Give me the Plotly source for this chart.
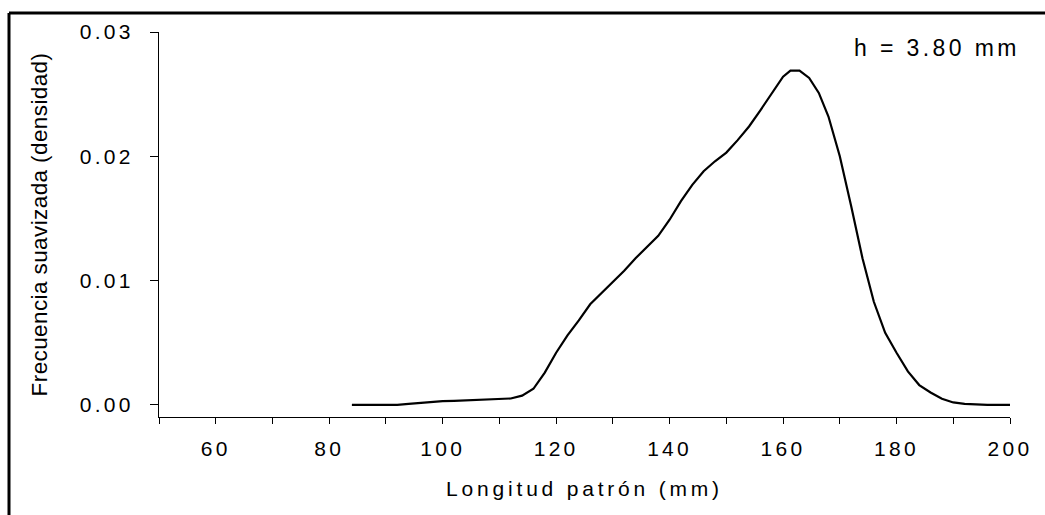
import plotly.graph_objects as go

# ---- data ----
length_mm = [84, 86, 88, 90, 92, 94, 96, 98, 100, 102, 104, 106, 108, 110, 112, 114, 116,
             118, 120, 122, 124, 126, 128, 130, 132, 134, 136, 138, 140, 142, 144, 146, 148,
             150, 152, 154, 156, 158, 160, 161.3, 162.9, 164.6, 166.3, 168, 170, 172, 174,
             176, 178, 180, 182, 184, 186, 188, 190, 192, 194, 196, 198, 200]
density = [0, 0, 0, 0, 0, 0.00008, 0.00016, 0.00019, 0.0003, 0.00032, 0.00036, 0.00044,
           0.00046, 0.00046, 0.00052, 0.00075, 0.0013,
           0.0026, 0.0042, 0.0056, 0.0068, 0.0081, 0.0090, 0.0099, 0.0108, 0.0118, 0.0127,
           0.0136, 0.0149, 0.0164, 0.0177, 0.0188, 0.0196,
           0.0203, 0.0213, 0.0224, 0.0237, 0.0251, 0.0264, 0.0269, 0.0269, 0.0263, 0.0251,
           0.0232, 0.0200, 0.0160, 0.0118,
           0.0083, 0.0058, 0.0042, 0.0027, 0.0016, 0.0010, 0.0005, 0.0002, 0.00008, 0.00002,
           0, 0, 0]

x_tickvals = [50, 60, 70, 80, 90, 100, 110, 120, 130, 140, 150, 160, 170, 180, 190, 200]
x_ticklabels = ["", "60", "", "80", "", "100", "", "120", "", "140", "", "160", "", "180", "", "200"]
y_tickvals = [0.0, 0.01, 0.02, 0.03]
y_ticklabels = ["0.00", "0.01", "0.02", "0.03"]

x_title = "Longitud patrón (mm)"
y_title = "Frecuencia suavizada (densidad)"
note = "h = 3.80 mm"

FONT = "Liberation Sans, Arial, sans-serif"


def spaced(text, px):
    if not text:
        return text
    return f'<span style="letter-spacing:{px}px">{text}</span>'


fig = go.Figure()
fig.add_trace(go.Scatter(
    x=length_mm, y=density, mode="lines",
    line=dict(color="black", width=2.2),
    showlegend=False, hoverinfo="x+y",
))

fig.update_layout(
    width=1045, height=515,
    margin=dict(l=159, r=35, t=32, b=98),
    paper_bgcolor="white", plot_bgcolor="white",
    font=dict(family=FONT, color="black", size=21),
    xaxis=dict(
        range=[50, 200], showgrid=False, zeroline=False,
        showline=True, linecolor="black", linewidth=1,
        ticks="outside", ticklen=6, tickwidth=1, tickcolor="black",
        tickvals=x_tickvals,
        ticktext=[spaced(t, 3.3) for t in x_ticklabels],
        tickfont=dict(family=FONT, size=21, color="black"),
        ticklabelstandoff=7,
        title=dict(text=spaced(x_title, 3.8), font=dict(family=FONT, size=21), standoff=22),
        automargin=False,
    ),
    yaxis=dict(
        range=[-0.00097, 0.03], showgrid=False, zeroline=False,
        showline=True, linecolor="black", linewidth=1,
        ticks="outside", ticklen=8, tickwidth=1, tickcolor="black",
        tickvals=y_tickvals,
        ticktext=[spaced(t, 3.3) for t in y_ticklabels],
        tickfont=dict(family=FONT, size=21, color="black"),
        ticklabelstandoff=12,
        title=dict(text=spaced(y_title, 0.4), font=dict(family=FONT, size=22.5), standoff=25),
        automargin=False,
    ),
)

fig.add_annotation(
    xref="paper", yref="paper", x=1.0141, y=0.958,
    xanchor="right", yanchor="middle", showarrow=False,
    text=spaced(note, 3.4), font=dict(family=FONT, size=23, color="black"),
)

# outer frame (top and left edges)
fig.add_shape(type="line", xref="paper", yref="paper",
              x0=-0.17626, y0=1.0494, x1=1.05, y1=1.0494,
              line=dict(color="black", width=3))
fig.add_shape(type="line", xref="paper", yref="paper",
              x0=-0.17626, y0=1.0494, x1=-0.17626, y1=-0.27,
              line=dict(color="black", width=3))

fig.write_html("out.html")
